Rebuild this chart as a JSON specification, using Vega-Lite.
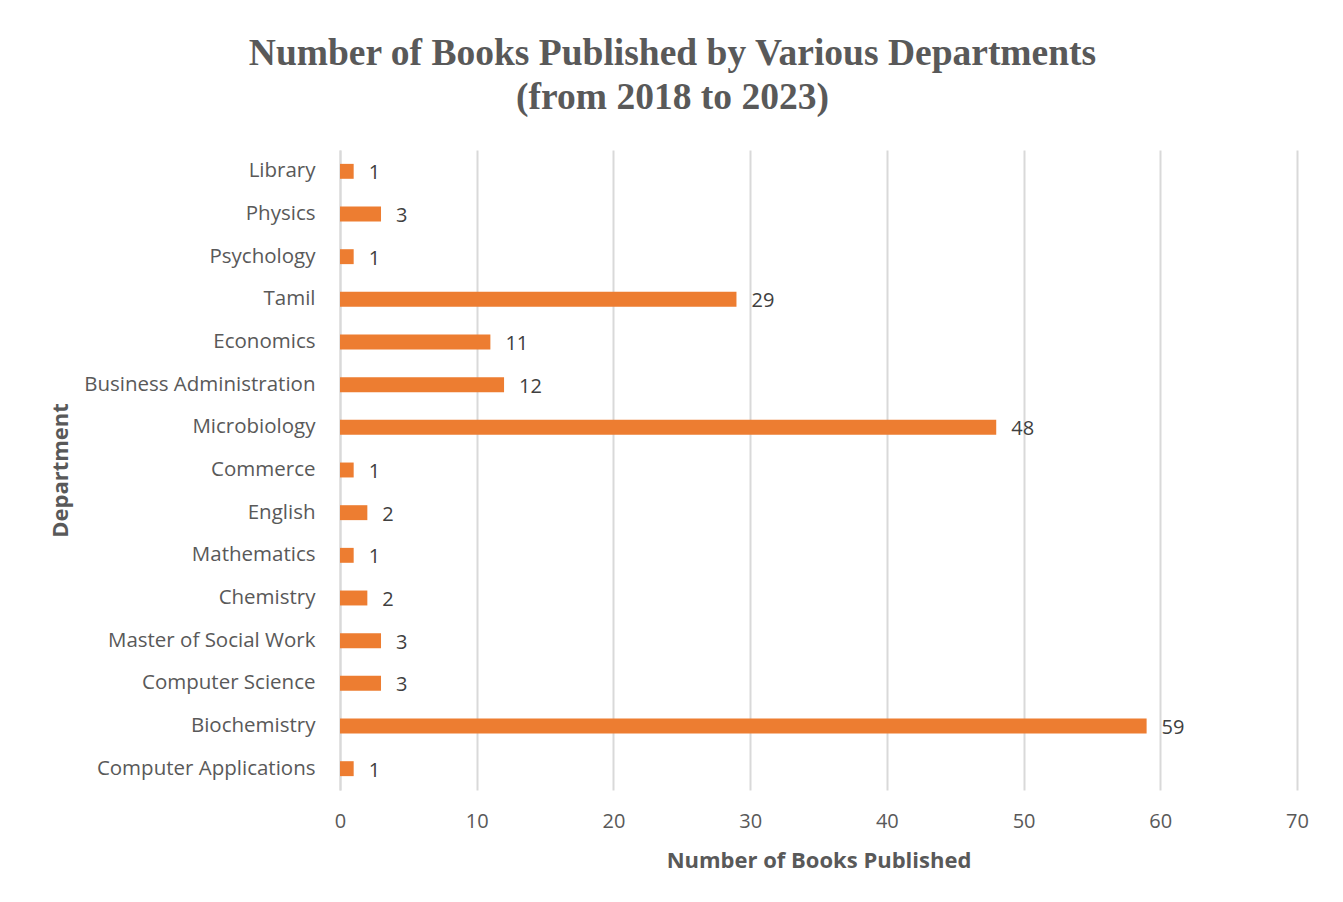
{
  "$schema": "https://vega.github.io/schema/vega-lite/v6.json",
  "autosize": "none",
  "width": 957,
  "height": 640,
  "padding": {"left": 340, "top": 150, "right": 46, "bottom": 112},
  "background": "white",
  "title": {
    "text": ["Number of Books Published by Various Departments", "(from 2018 to 2023)"],
    "font": "Liberation Serif",
    "fontSize": 37.5,
    "fontWeight": "bold",
    "color": "#595959",
    "anchor": "middle",
    "frame": "group",
    "dx": -146,
    "offset": 34,
    "lineHeight": 44
  },
  "config": {
    "view": {"stroke": null},
    "axis": {
      "labelFont": "Open Sans",
      "titleFont": "Open Sans",
      "labelColor": "#595959",
      "titleColor": "#595959"
    }
  },
  "data": {
    "values": [
      {"dept": "Library", "books": 1},
      {"dept": "Physics", "books": 3},
      {"dept": "Psychology", "books": 1},
      {"dept": "Tamil", "books": 29},
      {"dept": "Economics", "books": 11},
      {"dept": "Business Administration", "books": 12},
      {"dept": "Microbiology", "books": 48},
      {"dept": "Commerce", "books": 1},
      {"dept": "English", "books": 2},
      {"dept": "Mathematics", "books": 1},
      {"dept": "Chemistry", "books": 2},
      {"dept": "Master of Social Work", "books": 3},
      {"dept": "Computer Science", "books": 3},
      {"dept": "Biochemistry", "books": 59},
      {"dept": "Computer Applications", "books": 1}
    ]
  },
  "encoding": {
    "y": {
      "field": "dept",
      "type": "nominal",
      "sort": null,
      "title": "Department",
      "scale": {"paddingInner": 0.65, "paddingOuter": 0.325},
      "axis": {
        "labelFontSize": 20.5,
        "labelPadding": 25,
        "labelLimit": 0,
        "ticks": false,
        "domain": true,
        "domainColor": "#D9D9D9",
        "domainWidth": 2,
        "titleFontSize": 22,
        "titleFontWeight": "bold",
        "titlePadding": 68
      }
    },
    "x": {
      "field": "books",
      "type": "quantitative",
      "title": "Number of Books Published",
      "scale": {"domain": [0, 70], "nice": false},
      "axis": {
        "values": [0, 10, 20, 30, 40, 50, 60, 70],
        "labelFontSize": 20,
        "labelPadding": 21,
        "labelFlush": false,
        "ticks": false,
        "domain": false,
        "grid": true,
        "gridColor": "#D9D9D9",
        "gridWidth": 2,
        "titleFontSize": 22,
        "titleFontWeight": "bold",
        "titlePadding": 19
      }
    }
  },
  "layer": [
    {"mark": {"type": "bar", "color": "#ED7D31"}},
    {
      "mark": {"type": "text", "align": "left", "baseline": "middle", "dx": 15, "dy": 2, "font": "Open Sans", "fontSize": 20, "color": "#404040"},
      "encoding": {"text": {"field": "books", "type": "quantitative"}}
    }
  ]
}
